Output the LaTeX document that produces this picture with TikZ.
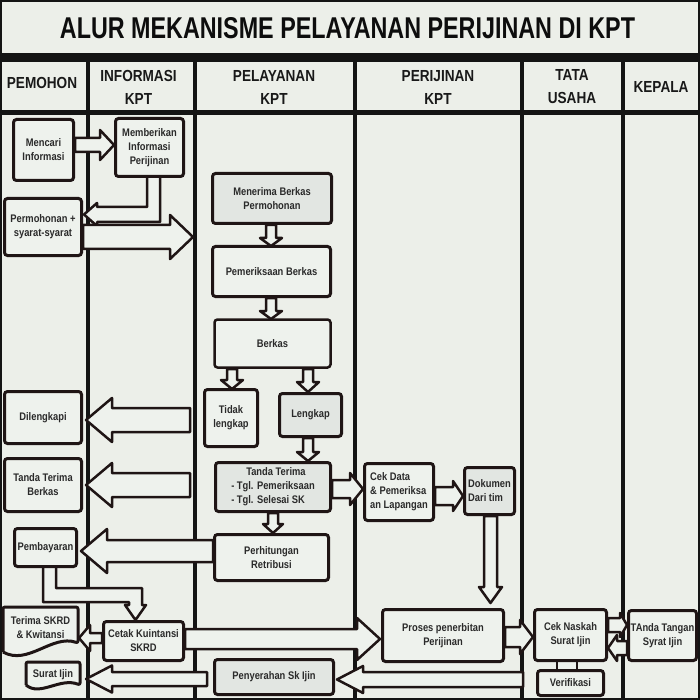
\documentclass[tikz,border=0pt]{standalone}
\usepackage{fontspec}
\usepackage{graphicx}
\newfontfamily\nar[FakeStretch=0.85]{Liberation Sans}
\definecolor{bg}{HTML}{ECEFE9}
\definecolor{ln}{HTML}{1F1515}
\definecolor{bx}{HTML}{EEF2ED}
\definecolor{bxd}{HTML}{E2E6E2}
\definecolor{tx}{HTML}{2A2A2A}
% horizontal block arrow: x0, xbase, xtip, yc, shaft half, head half
\newcommand\blkH[6]{\draw[arr] (#1,#4-#5) -- (#2,#4-#5) -- (#2,#4-#6) -- (#3,#4) -- (#2,#4+#6) -- (#2,#4+#5) -- (#1,#4+#5) -- cycle;}
% vertical block arrow: xc, y0, ybase, ytip, shaft half, head half
\newcommand\blkV[6]{\draw[arr] (#1-#5,#2) -- (#1-#5,#3) -- (#1-#6,#3) -- (#1,#4) -- (#1+#6,#3) -- (#1+#5,#3) -- (#1+#5,#2) -- cycle;}
\tikzset{
  box/.style={draw=ln, line width=3pt, rounded corners=3pt, fill=bx, text=tx,
    font=\nar\bfseries\fontsize{11}{14}\selectfont, align=center, inner sep=1pt},
  dbox/.style={box, fill=bxd},
  arr/.style={draw=ln, line width=2.5pt, fill=bx, line join=round},
  hdr/.style={text=black!90, font=\nar\bfseries\fontsize{16}{23}\selectfont, align=center},
  col/.style={draw=black!92, line width=3.5pt},
  doc/.style={draw=ln, line width=3pt, fill=bx, line join=round, rounded corners=2pt},
  lbl/.style={text=tx, font=\nar\bfseries\fontsize{11}{14}\selectfont, align=center}
}
\begin{document}
\begin{tikzpicture}[x=1pt,y=-1pt]
\useasboundingbox (0,0) rectangle (700,700);
\fill[bg] (0,0) rectangle (700,700);
% title
\node[text=black!95] (title) at (347.5,28.5) {\resizebox{575pt}{21pt}{\nar\bfseries ALUR MEKANISME PELAYANAN PERIJINAN DI KPT}};
% frame and header bars
\fill[black!92] (0,53) rectangle (700,62);
\fill[black!92] (0,110) rectangle (700,115);
\draw[col] (88,62) -- (88,700);
\draw[col] (195,62) -- (195,700);
\draw[col] (355,62) -- (355,700);
\draw[col] (522,62) -- (522,700);
\draw[col] (623,62) -- (623,700);
\draw[black!92, line width=4pt] (0,0) rectangle (700,700);
% headers
\node[hdr] (h1) at (42,83) {PEMOHON};
\node[hdr] (h2) at (138.5,87) {INFORMASI\\KPT};
\node[hdr] (h3) at (274,87) {PELAYANAN\\KPT};
\node[hdr] (h4) at (438,87) {PERIJINAN\\KPT};
\node[hdr] (h5) at (572,87) {TATA\\USAHA};
\node[hdr] (h6) at (661,87) {KEPALA};
% ---------- arrows ----------
\blkH{75}{100}{114}{145}{7}{15}
\draw[arr] (147,176) -- (147,207) -- (97,207) -- (97,203) -- (84,214.5) -- (97,226) -- (97,222) -- (160,222) -- (160,176);
\blkH{83}{170}{193}{237}{12}{22}
\blkV{271}{225}{238}{246}{5}{11}
\blkV{271}{298}{311}{319}{5}{11}
\blkV{232}{369}{380}{389}{5}{11}
\blkV{308}{369}{382}{392}{5}{11}
\blkH{190}{112}{86}{420}{12}{22}
\blkH{190}{112}{86}{485}{12}{22}
\blkV{308}{438}{452}{461}{5}{11}
\blkV{273}{513}{524}{533}{5}{10}
\blkH{332}{350}{363}{489}{9}{16}
\blkH{213}{107}{81}{551}{11}{22}
\blkH{435}{453}{463}{496}{9}{15}
\blkV{490.5}{516}{587}{603}{6.5}{11.5}
\draw[arr] (43,566) -- (43,602) -- (129,602) -- (129,605) -- (125,605) -- (135.5,620) -- (146,605) -- (142,605) -- (142,588) -- (56,588) -- (56,566);
\blkH{102}{90}{79}{638}{5}{13}
\blkH{185}{357}{380}{639}{10}{21}
\blkH{505}{520}{533}{637}{10}{17}
\blkH{608}{620}{627}{625}{7}{12}
\blkH{627}{617}{608}{648}{7}{13}
\blkH{523}{363}{337}{679.5}{7.5}{13.5}
\blkH{207}{112}{86}{679}{7}{13.5}
\draw[arr] (557,660) rectangle (577,670);
% ---------- boxes ----------
\node[box, minimum width=60pt, minimum height=61pt] (mencari) at (43.5,150) {Mencari\\Informasi};
\node[box, minimum width=68pt, minimum height=58pt] (memberi) at (149.5,147.5) {Memberikan\\Informasi\\Perijinan};
\node[box, minimum width=77pt, minimum height=57pt] (mohon) at (43,227) {Permohonan +\\syarat-syarat};
\node[dbox, minimum width=119pt, minimum height=50pt] (terima) at (272,198.5) {Menerima Berkas\\Permohonan};
\node[box, minimum width=118pt, minimum height=50pt] (periksa) at (271.5,271.5) {Pemeriksaan Berkas};
\node[box, line width=2.5pt, minimum width=116pt, minimum height=48pt] (berkas) at (272.5,343.5) {Berkas};
\node[box, minimum width=53pt, minimum height=57pt] (tidak) at (231,418) {Tidak\\lengkap};
\node[dbox, minimum width=62pt, minimum height=43pt] (lengkap) at (310.5,415) {Lengkap};
\node[box, minimum width=77pt, minimum height=52pt] (dileng) at (43,417.5) {Dilengkapi};
\node[box, minimum width=77pt, minimum height=53pt] (ttb) at (43,485) {Tanda Terima\\Berkas};
\node[dbox, minimum width=115pt, minimum height=49pt, align=left] (tanda) at (273,487) {\hspace*{15pt}Tanda Terima\\- Tgl. Pemeriksaan\\- Tgl. Selesai SK};
\node[box, minimum width=114pt, minimum height=46pt] (hitung) at (271.5,557.5) {Perhitungan\\Retribusi};
\node[box, minimum width=62pt, minimum height=38pt] (bayar) at (45.5,547.5) {Pembayaran};
\node[box, minimum width=69pt, minimum height=57pt, align=left] (cekdata) at (399,492) {Cek Data\\\& Pemeriksa\\an Lapangan};
\node[dbox, minimum width=50pt, minimum height=47pt, align=left] (dokumen) at (489.5,491) {Dokumen\\Dari tim};
\node[box, minimum width=121pt, minimum height=52pt] (proses) at (443,635.5) {Proses penerbitan\\Perijinan};
\node[box, minimum width=72pt, minimum height=51pt] (naskah) at (570.5,635) {Cek Naskah\\Surat Ijin};
\node[box, minimum width=68pt, minimum height=50pt] (ttd) at (662.5,635.5) {TAnda Tangan\\Syrat Ijin};
\node[box, minimum width=66pt, minimum height=25pt] (verif) at (570.5,683) {Verifikasi};
\node[box, minimum width=80pt, minimum height=39pt] (cetak) at (143.5,641) {Cetak Kuintansi\\SKRD};
\node[dbox, minimum width=119pt, minimum height=35pt] (serah) at (274,677) {Penyerahan Sk Ijin};
% documents
\draw[doc] (3,652) -- (3,607) -- (78,607) -- (78,643) [sharp corners] .. controls (52,634) and (28,666) .. (3,652);
\node[lbl] (skrd) at (40.5,628) {Terima SKRD\\\& Kwitansi};
\draw[doc] (26,685) -- (26,662) -- (80,662) -- (80,685) [sharp corners] .. controls (60,677) and (40,697) .. (26,685);
\node[lbl] (surat) at (53,675) {Surat Ijin};
\end{tikzpicture}
\end{document}
